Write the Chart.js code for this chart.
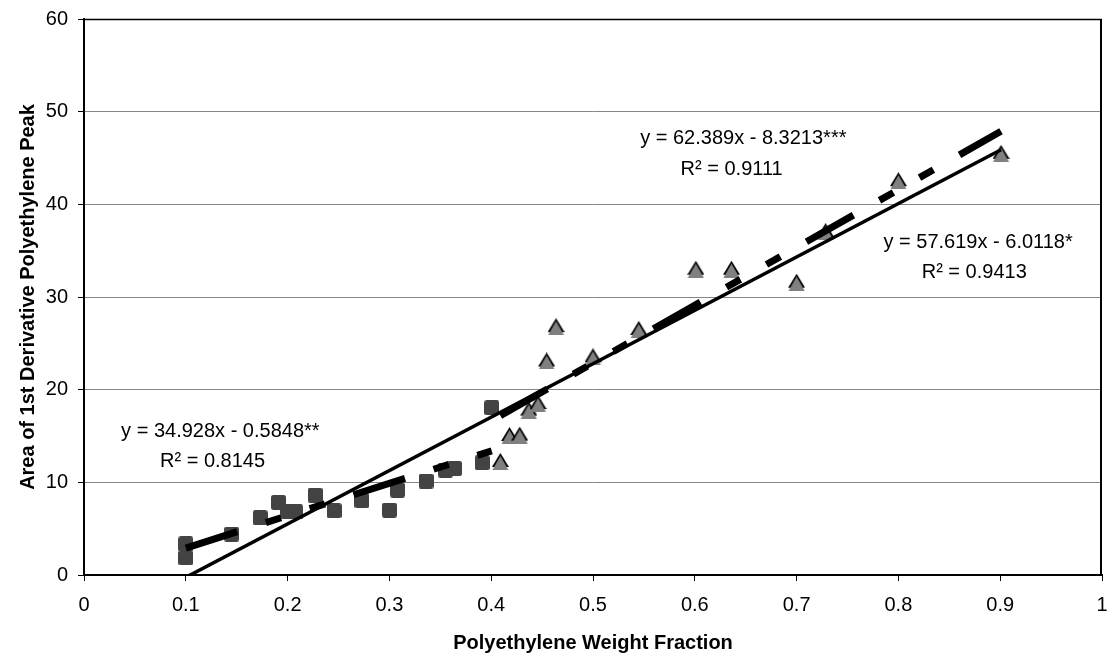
<!DOCTYPE html>
<html>
<head>
<meta charset="utf-8">
<script src="https://cdn.jsdelivr.net/npm/chart.js@4.4.0/dist/chart.umd.min.js"></script>
<style>
  html, body { margin: 0; padding: 0; background: #fff; }
</style>
</head>
<body>
<canvas id="chart" width="1107" height="655"></canvas>
<script>
// square markers (fit **)
const squareX = [0.1, 0.1, 0.145, 0.173, 0.191, 0.2, 0.208, 0.227, 0.2456, 0.273, 0.3, 0.308, 0.336, 0.355, 0.364, 0.391, 0.4005];
const squareY = [3.35, 1.85, 4.42, 6.18, 7.84, 6.9, 6.8, 8.63, 6.94, 8.02, 7.01, 9.17, 10.14, 11.33, 11.5, 12.12, 18.05];

// triangle markers (fit ***)
const triX = [0.409, 0.418, 0.428, 0.437, 0.446, 0.4545, 0.4637, 0.5, 0.545, 0.601, 0.636, 0.7, 0.7285, 0.8, 0.9008];
const triY = [12.25, 15.05, 15.1, 17.8, 18.5, 23.1, 26.8, 23.55, 26.5, 33.0, 33.0, 31.6, 37.05, 42.55, 45.5];

// trend line end points, from the printed equations
const fitSqX = [0.1, 0.4005];
const fitSqY = [2.908, 13.404];
const fitTriX = [0.409, 0.9008];
const fitTriY = [17.197, 47.879];
const fitAllX = [0.1, 0.9008];
const fitAllY = [-0.250, 45.891];

const eqText = ['y = 34.928x - 0.5848', 'y = 62.389x - 8.3213', 'y = 57.619x - 6.0118'];
const eqStars = ['**', '***', '*'];
const r2Text = ['R\u00b2 = 0.8145', 'R\u00b2 = 0.9111', 'R\u00b2 = 0.9413'];

const xTicks = [0, 0.1, 0.2, 0.3, 0.4, 0.5, 0.6, 0.7, 0.8, 0.9, 1];
const xTickLabels = ['0', '0.1', '0.2', '0.3', '0.4', '0.5', '0.6', '0.7', '0.8', '0.9', '1'];
const yTicks = [0, 10, 20, 30, 40, 50, 60];
const yTickLabels = ['0', '10', '20', '30', '40', '50', '60'];

const FONT = "'Liberation Sans', Arial, sans-serif";
Chart.defaults.font.family = FONT;
Chart.defaults.color = '#000';

function pts(xs, ys) {
    return xs.map((x, i) => ({x: x, y: ys[i]}));
}

function squareMarker() {
    const c = document.createElement('canvas');
    c.width = 15; c.height = 15;
    const g = c.getContext('2d');
    g.fillStyle = '#434343';
    g.beginPath();
    g.roundRect(0, 0, 15, 15, 2.5);
    g.fill();
    return c;
}

function triangleMarker() {
    const c = document.createElement('canvas');
    c.width = 17; c.height = 17;
    const g = c.getContext('2d');
    g.fillStyle = '#000';
    g.beginPath(); g.moveTo(8.5, 0); g.lineTo(17, 14); g.lineTo(0, 14); g.closePath(); g.fill();
    g.fillStyle = '#808080';
    g.beginPath(); g.moveTo(8.5, 3); g.lineTo(16.5, 17); g.lineTo(0.5, 17); g.closePath(); g.fill();
    return c;
}

// label anchors in data units: [x centre of R2 line, baseline of equation, baseline of R2]
const labelPos = [[0.1263, 14.89, 11.69], [0.6362, 46.51, 43.16], [0.8745, 35.25, 32.0]];

const frame = {
    id: 'frame',
    beforeDatasetsDraw(chart) {
        const a = chart.chartArea;
        const ctx = chart.ctx;
        ctx.save();
        ctx.strokeStyle = '#000';
        ctx.lineWidth = 1.5;
        ctx.beginPath();
        ctx.moveTo(a.left, a.top + 0.5);
        ctx.lineTo(a.right, a.top + 0.5);
        ctx.stroke();
        ctx.lineWidth = 2;
        ctx.beginPath();
        ctx.moveTo(a.right - 1, a.top);
        ctx.lineTo(a.right - 1, a.bottom);
        ctx.stroke();
        ctx.restore();
    },
    afterDatasetsDraw(chart) {
        const ctx = chart.ctx;
        const xs = chart.scales.x, ys = chart.scales.y;
        ctx.save();
        ctx.font = '20px ' + FONT;
        ctx.fillStyle = '#000';
        ctx.textBaseline = 'alphabetic';
        labelPos.forEach((p, i) => {
            const cx = xs.getPixelForValue(p[0]);
            ctx.textAlign = 'left';
            const w = ctx.measureText(eqText[i]).width;
            ctx.fillText(eqText[i] + eqStars[i], cx - w / 2, ys.getPixelForValue(p[1]));
            ctx.textAlign = 'center';
            ctx.fillText(r2Text[i], cx, ys.getPixelForValue(p[2]));
        });
        ctx.restore();
    }
};

const dash = [54, 30, 16, 30, 16, 30];

new Chart(document.getElementById('chart'), {
    type: 'scatter',
    data: {
        datasets: [
            {
                data: pts(fitSqX, fitSqY), showLine: true, pointRadius: 0,
                borderColor: '#000', borderWidth: 7, borderDash: dash, borderCapStyle: 'butt', order: 0
            },
            {
                data: pts(fitTriX, fitTriY), showLine: true, pointRadius: 0,
                borderColor: '#000', borderWidth: 7, borderDash: dash, borderCapStyle: 'butt', order: 0
            },
            {
                data: pts(fitAllX, fitAllY), showLine: true, pointRadius: 0, clip: 0,
                borderColor: '#000', borderWidth: 3.5, order: 0
            },
            {
                data: pts(squareX, squareY), pointStyle: squareMarker(), order: 1
            },
            {
                data: pts(triX, triY), pointStyle: triangleMarker(), order: 2
            }
        ]
    },
    options: {
        responsive: false,
        devicePixelRatio: 1,
        animation: false,
        layout: { padding: { top: 19, right: 5, left: 0, bottom: 0 } },
        plugins: { legend: { display: false }, tooltip: { enabled: false } },
        scales: {
            x: {
                type: 'linear', min: 0, max: 1,
                afterBuildTicks: s => { s.ticks = xTicks.map(v => ({value: v})); },
                afterFit: s => { s.height = 80; s.paddingLeft = 0; s.paddingRight = 0; },
                grid: { drawOnChartArea: false, tickLength: 6, tickColor: '#000' },
                border: { color: '#000', width: 2 },
                ticks: {
                    font: { size: 20 }, padding: 12, maxRotation: 0,
                    callback: (v, i) => xTickLabels[i]
                },
                title: {
                    display: true, text: 'Polyethylene Weight Fraction',
                    font: { size: 20, weight: 'bold' }, padding: { top: 0, bottom: 0 }
                }
            },
            y: {
                type: 'linear', min: 0, max: 60,
                afterBuildTicks: s => { s.ticks = yTicks.map(v => ({value: v})); },
                afterFit: s => { s.width = 84; s.paddingTop = 0; s.paddingBottom = 0; },
                grid: { color: '#868686', lineWidth: 1, tickLength: 6, tickColor: '#000' },
                border: { color: '#000', width: 2 },
                ticks: {
                    font: { size: 20 }, padding: 10,
                    callback: (v, i) => yTickLabels[i]
                },
                title: {
                    display: true, text: 'Area of 1st Derivative Polyethylene Peak',
                    font: { size: 20, weight: 'bold' }, padding: { top: 16, bottom: 0 }
                }
            }
        }
    },
    plugins: [frame]
});
</script>
</body>
</html>
